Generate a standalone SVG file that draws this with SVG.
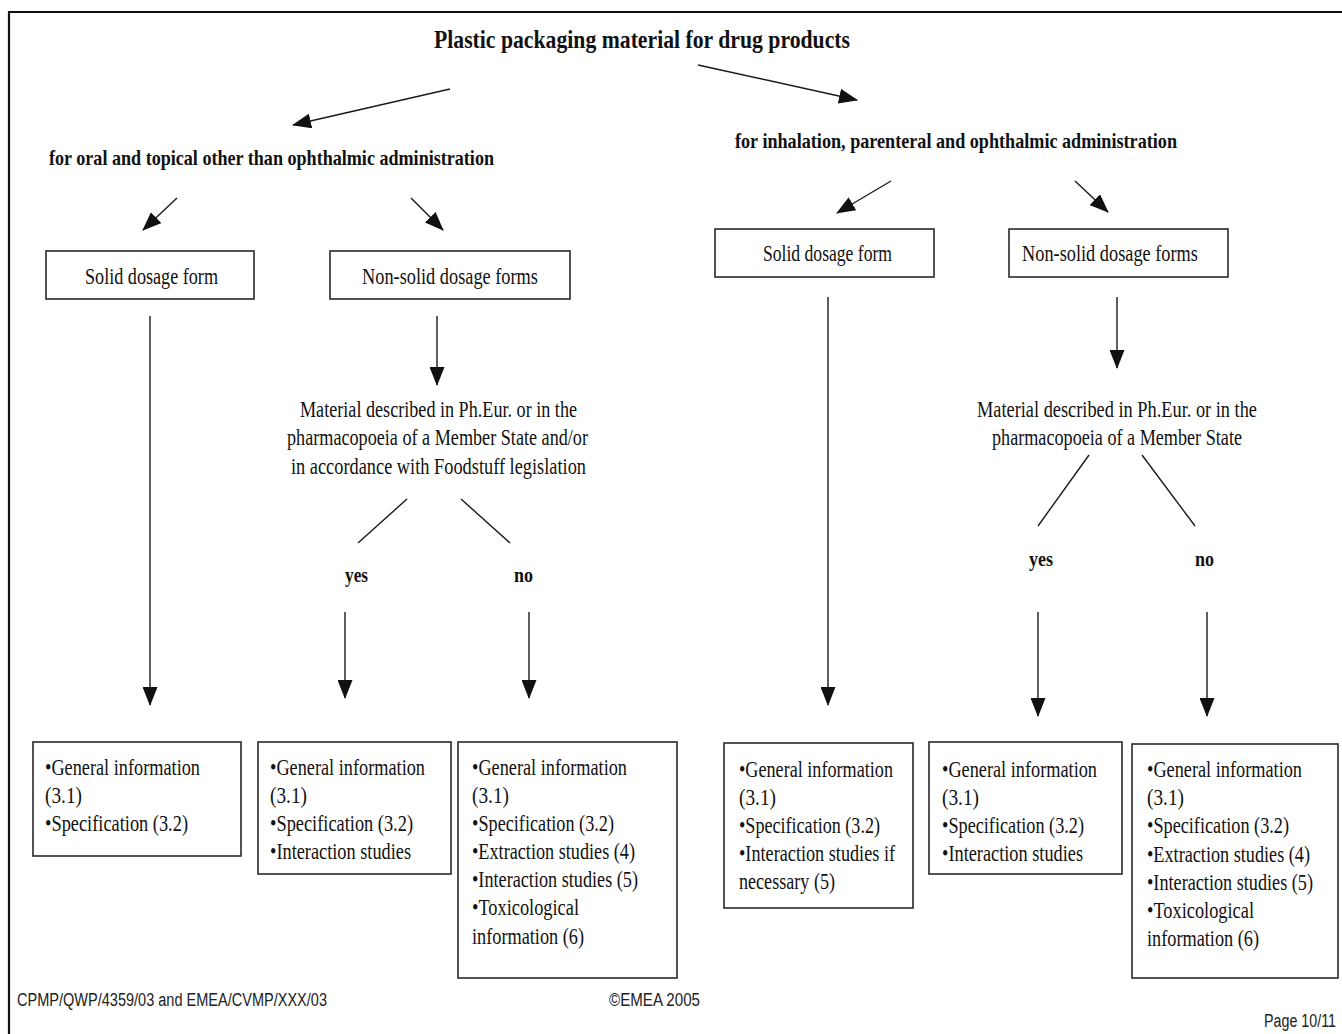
<svg xmlns="http://www.w3.org/2000/svg" width="1342" height="1034" viewBox="0 0 1342 1034">
<style>
.t{font-family:"Liberation Serif","Times New Roman",serif;font-size:22.5px;fill:#111}
.b{font-family:"Liberation Serif","Times New Roman",serif;font-weight:bold;fill:#111}
.f{font-family:"Liberation Sans",Arial,sans-serif;font-size:18px;fill:#222}
.box{fill:#fff;stroke:#2a2a2a;stroke-width:1.6}
.ln{stroke:#1a1a1a;stroke-width:1.4;fill:none}
.ar{stroke:#1a1a1a;stroke-width:1.4;fill:none;marker-end:url(#ah)}
</style>
<defs>
<marker id="ah" markerUnits="userSpaceOnUse" markerWidth="19" markerHeight="15" refX="18" refY="7.5" orient="auto">
<path d="M0,0 L19,7.5 L0,15 z" fill="#111"/>
</marker>
</defs>
<rect width="1342" height="1034" fill="#fff"/>
<g id="frame">
<path d="M9,1034 V12 H1342" fill="none" stroke="#111" stroke-width="2.2"/>
</g>

<g id="title"><text class="b" x="434" y="48" font-size="25" textLength="416" lengthAdjust="spacingAndGlyphs">Plastic packaging material for drug products</text></g>
<g id="oral"><text class="b" x="49" y="165" font-size="22" textLength="445" lengthAdjust="spacingAndGlyphs">for oral and topical other than ophthalmic administration</text></g>
<g id="inhal"><text class="b" x="735" y="148" font-size="22" textLength="442" lengthAdjust="spacingAndGlyphs">for inhalation, parenteral and ophthalmic administration</text></g>

<g id="solidL"><rect class="box" x="46" y="251" width="208" height="48"/><text class="t" x="85" y="284" textLength="133" lengthAdjust="spacingAndGlyphs">Solid dosage form</text></g>
<g id="nonsolidL"><rect class="box" x="330" y="251" width="240" height="48"/><text class="t" x="362" y="284" textLength="176" lengthAdjust="spacingAndGlyphs">Non-solid dosage forms</text></g>
<g id="solidR"><rect class="box" x="715" y="229" width="219" height="48"/><text class="t" x="763" y="261" textLength="129" lengthAdjust="spacingAndGlyphs">Solid dosage form</text></g>
<g id="nonsolidR"><rect class="box" x="1009" y="229" width="219" height="48"/><text class="t" x="1022" y="261" textLength="176" lengthAdjust="spacingAndGlyphs">Non-solid dosage forms</text></g>

<g id="materialL">
<text class="t" x="300" y="417" textLength="277" lengthAdjust="spacingAndGlyphs">Material described in Ph.Eur. or in the</text>
<text class="t" x="287" y="445" textLength="301" lengthAdjust="spacingAndGlyphs">pharmacopoeia of a Member State and/or</text>
<text class="t" x="291" y="474" textLength="295" lengthAdjust="spacingAndGlyphs">in accordance with Foodstuff legislation</text>
</g>
<g id="materialR">
<text class="t" x="977" y="417" textLength="280" lengthAdjust="spacingAndGlyphs">Material described in Ph.Eur. or in the</text>
<text class="t" x="992" y="445" textLength="250" lengthAdjust="spacingAndGlyphs">pharmacopoeia of a Member State</text>
</g>
<g id="yesL"><text class="b" x="345" y="582" font-size="22" textLength="23" lengthAdjust="spacingAndGlyphs">yes</text></g>
<g id="noL"><text class="b" x="514" y="582" font-size="22" textLength="19" lengthAdjust="spacingAndGlyphs">no</text></g>
<g id="yesR"><text class="b" x="1029" y="566" font-size="22" textLength="24" lengthAdjust="spacingAndGlyphs">yes</text></g>
<g id="noR"><text class="b" x="1195" y="566" font-size="22" textLength="19" lengthAdjust="spacingAndGlyphs">no</text></g>

<g id="res1"><rect class="box" x="33" y="742" width="208" height="114"/>
<text class="t" x="45" y="775" textLength="155" lengthAdjust="spacingAndGlyphs">•General information</text>
<text class="t" x="45" y="803" textLength="37" lengthAdjust="spacingAndGlyphs">(3.1)</text>
<text class="t" x="45" y="831" textLength="143" lengthAdjust="spacingAndGlyphs">•Specification (3.2)</text>
</g>
<g id="res2"><rect class="box" x="258" y="742" width="193" height="132"/>
<text class="t" x="270" y="775" textLength="155" lengthAdjust="spacingAndGlyphs">•General information</text>
<text class="t" x="270" y="803" textLength="37" lengthAdjust="spacingAndGlyphs">(3.1)</text>
<text class="t" x="270" y="831" textLength="143" lengthAdjust="spacingAndGlyphs">•Specification (3.2)</text>
<text class="t" x="270" y="859" textLength="141" lengthAdjust="spacingAndGlyphs">•Interaction studies</text>
</g>
<g id="res3"><rect class="box" x="458" y="742" width="219" height="236"/>
<text class="t" x="472" y="775" textLength="155" lengthAdjust="spacingAndGlyphs">•General information</text>
<text class="t" x="472" y="803" textLength="37" lengthAdjust="spacingAndGlyphs">(3.1)</text>
<text class="t" x="472" y="831" textLength="142" lengthAdjust="spacingAndGlyphs">•Specification (3.2)</text>
<text class="t" x="472" y="859" textLength="163" lengthAdjust="spacingAndGlyphs">•Extraction studies (4)</text>
<text class="t" x="472" y="887" textLength="166" lengthAdjust="spacingAndGlyphs">•Interaction studies (5)</text>
<text class="t" x="472" y="915" textLength="107" lengthAdjust="spacingAndGlyphs">•Toxicological</text>
<text class="t" x="472" y="944" textLength="112" lengthAdjust="spacingAndGlyphs">information (6)</text>
</g>
<g id="res4"><rect class="box" x="724" y="743" width="189" height="165"/>
<text class="t" x="739" y="777" textLength="154" lengthAdjust="spacingAndGlyphs">•General information</text>
<text class="t" x="739" y="805" textLength="37" lengthAdjust="spacingAndGlyphs">(3.1)</text>
<text class="t" x="739" y="833" textLength="141" lengthAdjust="spacingAndGlyphs">•Specification (3.2)</text>
<text class="t" x="739" y="861" textLength="156" lengthAdjust="spacingAndGlyphs">•Interaction studies if</text>
<text class="t" x="739" y="889" textLength="96" lengthAdjust="spacingAndGlyphs">necessary (5)</text>
</g>
<g id="res5"><rect class="box" x="929" y="742" width="193" height="132"/>
<text class="t" x="942" y="777" textLength="155" lengthAdjust="spacingAndGlyphs">•General information</text>
<text class="t" x="942" y="805" textLength="37" lengthAdjust="spacingAndGlyphs">(3.1)</text>
<text class="t" x="942" y="833" textLength="142" lengthAdjust="spacingAndGlyphs">•Specification (3.2)</text>
<text class="t" x="942" y="861" textLength="141" lengthAdjust="spacingAndGlyphs">•Interaction studies</text>
</g>
<g id="res6"><rect class="box" x="1132" y="744" width="206" height="234"/>
<text class="t" x="1147" y="777" textLength="155" lengthAdjust="spacingAndGlyphs">•General information</text>
<text class="t" x="1147" y="805" textLength="37" lengthAdjust="spacingAndGlyphs">(3.1)</text>
<text class="t" x="1147" y="833" textLength="142" lengthAdjust="spacingAndGlyphs">•Specification (3.2)</text>
<text class="t" x="1147" y="862" font-size="21" textLength="163" lengthAdjust="spacingAndGlyphs">•Extraction studies (4)</text>
<text class="t" x="1147" y="890" font-size="21" textLength="166" lengthAdjust="spacingAndGlyphs">•Interaction studies (5)</text>
<text class="t" x="1147" y="918" textLength="107" lengthAdjust="spacingAndGlyphs">•Toxicological</text>
<text class="t" x="1147" y="946" textLength="112" lengthAdjust="spacingAndGlyphs">information (6)</text>
</g>

<g id="connectors">
<line class="ar" x1="450" y1="89" x2="293" y2="125"/>
<line class="ar" x1="698" y1="65" x2="857" y2="100"/>
<line class="ar" x1="177" y1="198" x2="143" y2="230"/>
<line class="ar" x1="411" y1="198" x2="443" y2="230"/>
<line class="ar" x1="891" y1="181" x2="837" y2="213"/>
<line class="ar" x1="1075" y1="181" x2="1108" y2="212"/>
<line class="ar" x1="150" y1="316" x2="150" y2="705"/>
<line class="ar" x1="437" y1="316" x2="437" y2="385"/>
<line class="ar" x1="345" y1="612" x2="345" y2="698"/>
<line class="ar" x1="529" y1="612" x2="529" y2="698"/>
<line class="ar" x1="828" y1="297" x2="828" y2="705"/>
<line class="ar" x1="1117" y1="297" x2="1117" y2="368"/>
<line class="ar" x1="1038" y1="612" x2="1038" y2="716"/>
<line class="ar" x1="1207" y1="612" x2="1207" y2="716"/>
<line class="ln" x1="407" y1="499" x2="358" y2="543"/>
<line class="ln" x1="461" y1="499" x2="510" y2="543"/>
<line class="ln" x1="1089" y1="455" x2="1038" y2="526"/>
<line class="ln" x1="1142" y1="455" x2="1195" y2="526"/>
</g>

<g id="footer">
<text class="f" x="17" y="1006" textLength="310" lengthAdjust="spacingAndGlyphs">CPMP/QWP/4359/03 and EMEA/CVMP/XXX/03</text>
<text class="f" x="609" y="1006" textLength="91" lengthAdjust="spacingAndGlyphs">©EMEA 2005</text>
<text class="f" x="1336" y="1027" text-anchor="end" textLength="72" lengthAdjust="spacingAndGlyphs">Page 10/11</text>
</g>
</svg>
